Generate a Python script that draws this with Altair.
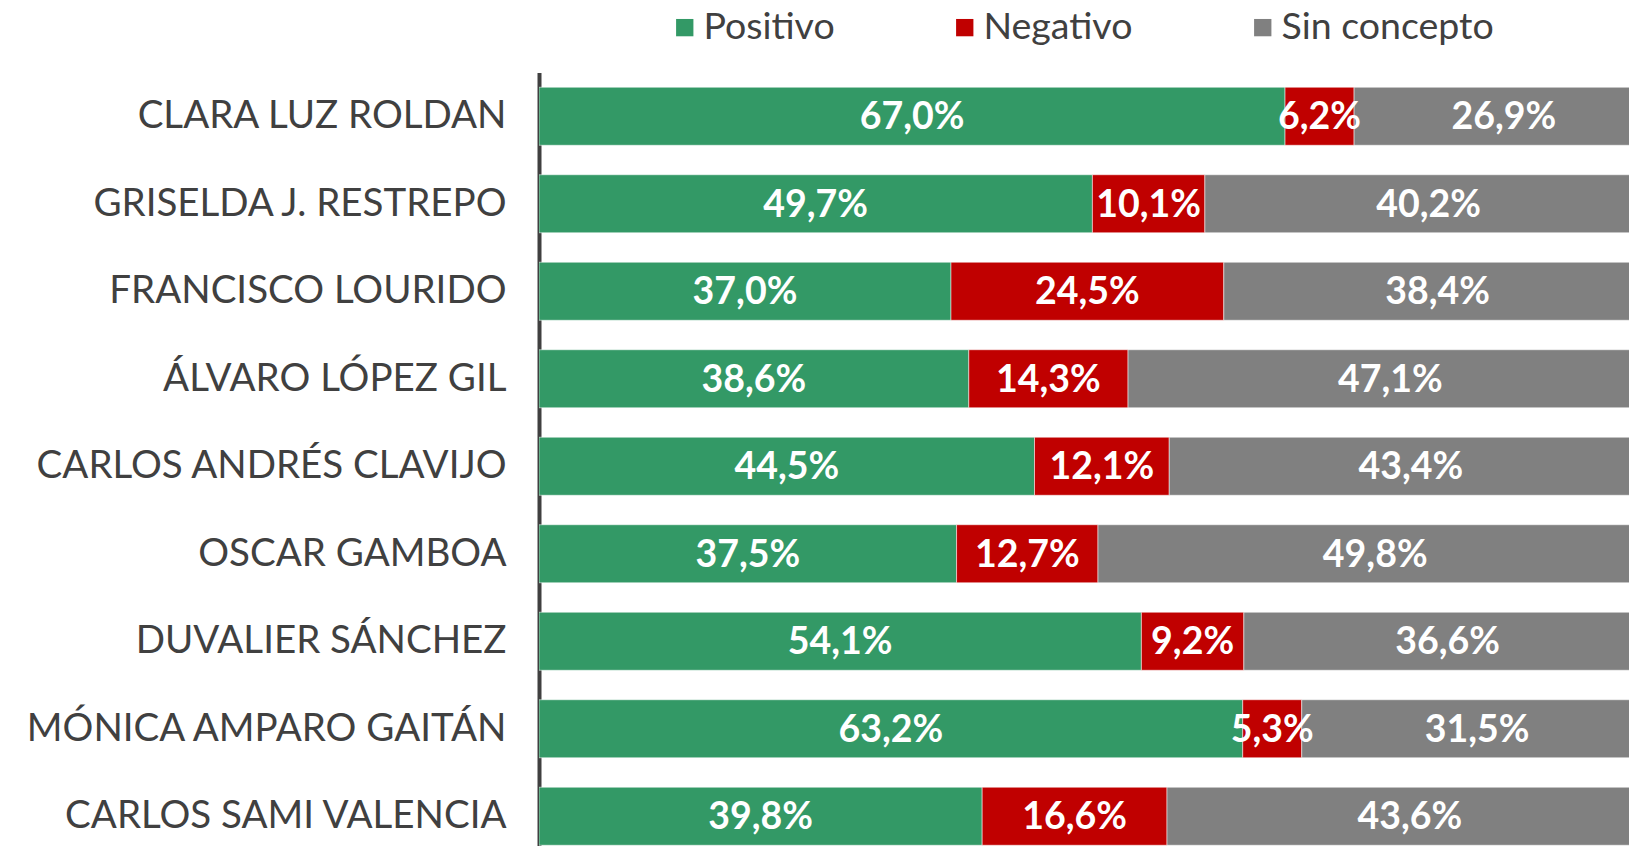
import altair as alt
import pandas as pd

candidatos = [
    "CLARA LUZ ROLDAN",
    "GRISELDA J. RESTREPO",
    "FRANCISCO LOURIDO",
    "ÁLVARO LÓPEZ GIL",
    "CARLOS ANDRÉS CLAVIJO",
    "OSCAR GAMBOA",
    "DUVALIER SÁNCHEZ",
    "MÓNICA AMPARO GAITÁN",
    "CARLOS SAMI VALENCIA",
]
positivo = [67.0, 49.7, 37.0, 38.6, 44.5, 37.5, 54.1, 63.2, 39.8]
negativo = [6.2, 10.1, 24.5, 14.3, 12.1, 12.7, 9.2, 5.3, 16.6]
sin_concepto = [26.9, 40.2, 38.4, 47.1, 43.4, 49.8, 36.6, 31.5, 43.6]
series = ["Positivo", "Negativo", "Sin concepto"]
colores = ["#339966", "#C00000", "#808080"]

rows = []
for i, c in enumerate(candidatos):
    for j, vals in enumerate([positivo, negativo, sin_concepto]):
        rows.append({"candidato": c, "serie": series[j], "orden": j, "valor": vals[i]})
df = pd.DataFrame(rows)

FONT = "Lato"
GRAY = "#404040"

base = alt.Chart(df).transform_stack(
    stack="valor", groupby=["candidato"], as_=["x0", "x1"],
    sort=[alt.SortField("orden", order="ascending")],
).transform_calculate(
    mid="(datum.x0 + datum.x1) / 2",
    etiqueta="replace(format(datum.valor, '.1f'), '.', ',') + '%'",
)

yscale = alt.Scale(range=[0, 787.5], paddingInner=0.337, paddingOuter=0.1686)
yenc = alt.Y(
    "candidato:N", sort=candidatos, scale=yscale,
    axis=alt.Axis(title=None, ticks=False, domainColor=GRAY, domainWidth=4,
                  labelFont=FONT, labelFontSize=38.5, labelColor=GRAY,
                  labelPadding=33, labelLimit=0),
)
xscale = alt.Scale(domain=[0, 100], range=[0, 1113.5], nice=False, zero=True)

bars = base.mark_bar(clip=True, stroke="white", strokeWidth=1, strokeOpacity=0.5).encode(
    x=alt.X("x0:Q", scale=xscale, axis=None),
    x2="x1:Q",
    y=yenc,
    color=alt.Color(
        "serie:N", sort=series,
        scale=alt.Scale(domain=series, range=colores),
        legend=alt.Legend(
            title=None, orient="none", direction="horizontal",
            legendX=127, legendY=-64,
            symbolType="square", symbolSize=300, symbolStrokeWidth=0,
            labelFont=FONT, labelFontSize=37.5, labelColor=GRAY,
            labelOffset=0, columnPadding=111, labelLimit=0,
        ),
    ),
    order=alt.Order("orden:Q"),
)

texts = base.mark_text(
    font=FONT, fontSize=37.5, fontWeight="bold", color="white",
    align="center", baseline="middle", dy=2, clip=True,
).encode(
    x=alt.X("mid:Q", scale=xscale, axis=None),
    y=alt.Y("candidato:N", sort=candidatos),
    text="etiqueta:N",
)

chart = alt.layer(bars, texts).properties(
    width=1090, height=773.5,
    autosize=alt.AutoSizeParams(type="none"),
    padding={"left": 531, "top": 64.5, "right": 0, "bottom": 0},
).configure_view(stroke=None)

chart.save("out.html", embed_options={"renderer": "svg", "actions": False})
